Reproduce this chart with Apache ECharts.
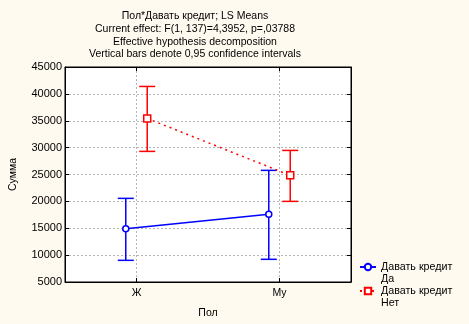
<!DOCTYPE html>
<html><head><meta charset="utf-8">
<script src="https://cdn.jsdelivr.net/npm/echarts@6/dist/echarts.min.js"></script>
<style>html,body{margin:0;padding:0;background:#fffaf0;}#c{width:469px;height:324px;}</style>
</head><body><div id="c"></div>
<script>
var categories = ['Ж', 'Му'];
var yTicks = [5000, 45000, 5000];
var seriesNames = ['Давать кредит\nДа', 'Давать кредит\nНет'];
var meanDa = [14900, 17600];
var lowDa = [9030, 9220];
var highDa = [20560, 25770];
var meanNet = [35430, 24840];
var lowNet = [29300, 20000];
var highNet = [41380, 29480];
var dodge = 0.075;

var axisCats = ['', categories[0], '', categories[1], ''];
function isCat(i){ return i === 1 || i === 3; }
function pts(vals, off){ return vals.map(function(v,i){ return [i+off, v]; }); }
function errs(lo, hi, off){ return lo.map(function(v,i){ return [i+off, v, hi[i]]; }); }
function errRender(color){
  return function(params, api){
    var x = api.value(0);
    var p1 = api.coord([x, api.value(1)]);
    var p2 = api.coord([x, api.value(2)]);
    var w = 8;
    var st = {stroke: color, lineWidth: 1.5};
    return {type:'group', children:[
      {type:'line', shape:{x1:p1[0], y1:p1[1], x2:p2[0], y2:p2[1]}, style:st},
      {type:'line', shape:{x1:p1[0]-w, y1:p1[1], x2:p1[0]+w, y2:p1[1]}, style:st},
      {type:'line', shape:{x1:p2[0]-w, y1:p2[1], x2:p2[0]+w, y2:p2[1]}, style:st}
    ]};
  };
}
var font = 'Liberation Sans, Arial, sans-serif';
var chart = echarts.init(document.getElementById('c'), null, {renderer:'canvas'});
chart.setOption({
  backgroundColor: '#fffaf0',
  animation: false,
  textStyle: {fontFamily: font},
  title: {
    text: 'Пол*Давать кредит; LS Means\nCurrent effect: F(1, 137)=4,3952, p=,03788\nEffective hypothesis decomposition\nVertical bars denote 0,95 confidence intervals',
    left: 190, top: 5, textAlign: 'center',
    textStyle: {fontSize: 10.5, fontWeight: 'normal', color: '#000', lineHeight: 12.7, fontFamily: font}
  },
  legend: {
    orient: 'vertical', left: 354, top: 244, itemWidth: 16, itemHeight: 8, itemGap: -12,
    formatter: function(n){ return '\n' + n; },
    textStyle: {fontSize: 10.7, color: '#000', lineHeight: 12, fontFamily: font},
    data: seriesNames
  },
  grid: {left: 61.5, top: 67, right: 118, bottom: 42, show: true, backgroundColor: '#fff', borderColor: '#000', borderWidth: 1},
  xAxis: [
    {type: 'category', data: axisCats, boundaryGap: false, position: 'bottom',
     name: 'Пол', nameLocation: 'middle', nameGap: 26, nameTextStyle: {fontSize: 10.5, color: '#000'},
     axisLine: {onZero: false, lineStyle: {color: '#000'}},
     axisTick: {inside: true, length: 4, interval: function(i){ return isCat(i); }, lineStyle: {color: '#000'}},
     axisLabel: {interval: function(i){ return isCat(i); }, fontSize: 10.5, color: '#000', margin: 6},
     splitLine: {show: true, interval: function(i){ return isCat(i); }, lineStyle: {color: '#b4b4b4', type: [2,2]}}},
    {type: 'category', data: axisCats, boundaryGap: false, position: 'top',
     axisLine: {onZero: false, lineStyle: {color: '#000'}},
     axisTick: {inside: true, length: 4, interval: function(i){ return isCat(i); }, lineStyle: {color: '#000'}},
     axisLabel: {show: false}, splitLine: {show: false}},
    {type: 'value', min: -0.5, max: 1.5, show: false}
  ],
  yAxis: [
    {type: 'value', min: yTicks[0], max: yTicks[1], interval: yTicks[2],
     name: 'Сумма', nameLocation: 'middle', nameGap: 46, nameTextStyle: {fontSize: 10.5, color: '#000'},
     axisLine: {show: true, onZero: false, lineStyle: {color: '#000'}},
     axisTick: {show: true, inside: true, length: 4, lineStyle: {color: '#000'}},
     axisLabel: {fontSize: 11, color: '#000', margin: 3, formatter: function(v){ return String(v); }},
     splitLine: {show: true, lineStyle: {color: '#b4b4b4', type: [2,2]}}},
    {type: 'value', min: yTicks[0], max: yTicks[1], interval: yTicks[2], position: 'right',
     axisLine: {show: true, onZero: false, lineStyle: {color: '#000'}},
     axisTick: {show: true, inside: true, length: 4, lineStyle: {color: '#000'}},
     axisLabel: {show: false}, splitLine: {show: false}}
  ],
  series: [
    {type: 'custom', xAxisIndex: 2, renderItem: errRender('#0000ff'), data: errs(lowDa, highDa, -dodge), z: 2},
    {type: 'custom', xAxisIndex: 2, renderItem: errRender('#ff0000'), data: errs(lowNet, highNet, dodge), z: 2},
    {name: seriesNames[0], type: 'line', xAxisIndex: 2, data: pts(meanDa, -dodge),
     symbol: 'circle', symbolSize: 6, color: '#0000ff',
     itemStyle: {color: '#fff', borderColor: '#0000ff', borderWidth: 1.5},
     lineStyle: {color: '#0000ff', width: 1.5}, z: 3},
    {name: seriesNames[1], type: 'line', xAxisIndex: 2, data: pts(meanNet, dodge),
     symbol: 'rect', symbolSize: 7, color: '#ff0000',
     itemStyle: {color: '#fff', borderColor: '#ff0000', borderWidth: 1.5},
     lineStyle: {color: '#ff0000', width: 1.5, type: [2,4]}, z: 3}
  ]
});
</script></body></html>
